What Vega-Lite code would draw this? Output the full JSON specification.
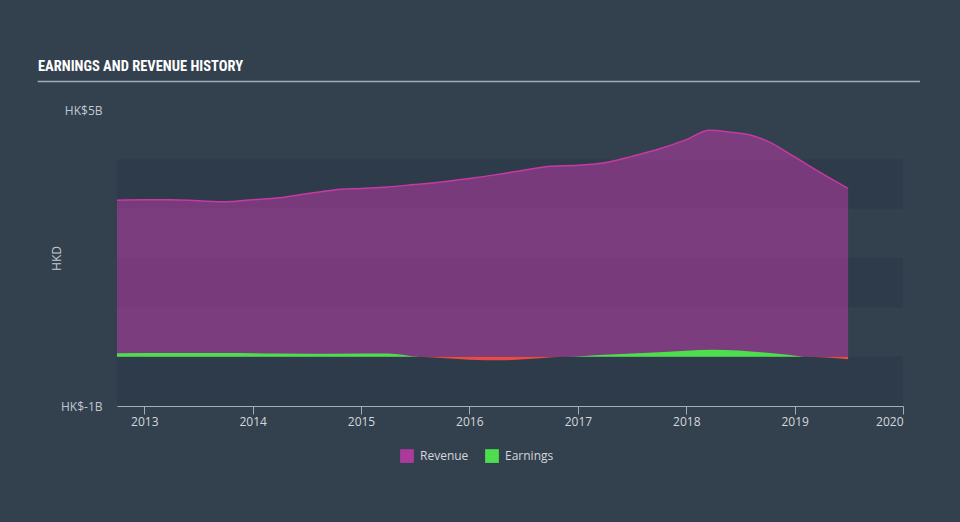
{
  "$schema": "https://vega.github.io/schema/vega-lite/v6.json",
  "autosize": "none",
  "width": 786,
  "height": 296,
  "padding": {"left": 117, "top": 110, "right": 57, "bottom": 116},
  "background": "#33414f",
  "title": {
    "text": "EARNINGS AND REVENUE HISTORY",
    "anchor": "start",
    "frame": "group",
    "dx": -79,
    "offset": 6,
    "font": "Roboto Condensed, DejaVu Sans Condensed",
    "fontSize": 14.5,
    "fontWeight": "bold",
    "color": "#ffffff"
  },
  "config": {
    "view": {"stroke": null},
    "axis": {"labelFont": "Open Sans", "titleFont": "Open Sans", "grid": false}
  },
  "datasets": {
    "bands": [
      {"lo": -1, "hi": 0},
      {"lo": 1, "hi": 2},
      {"lo": 3, "hi": 4}
    ],
    "header": [
      {"start": "2012-01-08", "end": "2020-02-27", "level": 5.58}
    ],
    "revenue": [
      {"date": "2012-10-01", "revenue": 3.17},
      {"date": "2013-01-01", "revenue": 3.18},
      {"date": "2013-04-01", "revenue": 3.18},
      {"date": "2013-07-01", "revenue": 3.16},
      {"date": "2013-10-01", "revenue": 3.14},
      {"date": "2014-01-01", "revenue": 3.18},
      {"date": "2014-04-01", "revenue": 3.22},
      {"date": "2014-07-01", "revenue": 3.30},
      {"date": "2014-10-01", "revenue": 3.38},
      {"date": "2015-01-01", "revenue": 3.41},
      {"date": "2015-04-01", "revenue": 3.44},
      {"date": "2015-07-01", "revenue": 3.49},
      {"date": "2015-10-01", "revenue": 3.54},
      {"date": "2016-01-01", "revenue": 3.61},
      {"date": "2016-04-01", "revenue": 3.69},
      {"date": "2016-07-01", "revenue": 3.78},
      {"date": "2016-10-01", "revenue": 3.86},
      {"date": "2017-01-01", "revenue": 3.88},
      {"date": "2017-04-01", "revenue": 3.93},
      {"date": "2017-07-01", "revenue": 4.06},
      {"date": "2017-10-01", "revenue": 4.21},
      {"date": "2018-01-01", "revenue": 4.40},
      {"date": "2018-03-20", "revenue": 4.59},
      {"date": "2018-06-01", "revenue": 4.55},
      {"date": "2018-08-01", "revenue": 4.50},
      {"date": "2018-10-01", "revenue": 4.37},
      {"date": "2019-01-01", "revenue": 4.05},
      {"date": "2019-04-01", "revenue": 3.72},
      {"date": "2019-06-30", "revenue": 3.41}
    ],
    "earnings": [
      {"date": "2012-10-01", "earnings": 0.07, "sign": "pos"},
      {"date": "2013-04-01", "earnings": 0.075, "sign": "pos"},
      {"date": "2013-10-01", "earnings": 0.075, "sign": "pos"},
      {"date": "2014-04-01", "earnings": 0.065, "sign": "pos"},
      {"date": "2014-10-01", "earnings": 0.06, "sign": "pos"},
      {"date": "2015-04-01", "earnings": 0.065, "sign": "pos"},
      {"date": "2015-07-20", "earnings": 0.0, "sign": "zero"},
      {"date": "2015-10-15", "earnings": -0.03, "sign": "neg"},
      {"date": "2016-01-01", "earnings": -0.06, "sign": "neg"},
      {"date": "2016-04-15", "earnings": -0.075, "sign": "neg"},
      {"date": "2016-08-01", "earnings": -0.04, "sign": "neg"},
      {"date": "2016-11-20", "earnings": 0.0, "sign": "zero"},
      {"date": "2017-04-01", "earnings": 0.04, "sign": "pos"},
      {"date": "2017-10-01", "earnings": 0.09, "sign": "pos"},
      {"date": "2018-04-01", "earnings": 0.14, "sign": "pos"},
      {"date": "2018-10-01", "earnings": 0.08, "sign": "pos"},
      {"date": "2019-02-01", "earnings": 0.0, "sign": "zero"},
      {"date": "2019-06-30", "earnings": -0.05, "sign": "neg"}
    ]
  },
  "encoding": {
    "x": {
      "field": "date",
      "type": "temporal",
      "scale": {"domain": [{"year": 2012, "month": 10, "date": 1}, {"year": 2020, "month": 1, "date": 1}], "nice": false},
      "axis": {
        "title": null,
        "format": "%Y",
        "tickCount": {"interval": "year", "step": 1},
        "domainColor": "#a3aebb",
        "tickColor": "#a3aebb",
        "tickSize": 8,
        "labelColor": "#d3d7dc",
        "labelFontSize": 12,
        "labelPadding": 2
      }
    }
  },
  "layer": [
    {
      "data": {"name": "bands"},
      "mark": {"type": "rect", "fill": "#2e3b4a"},
      "encoding": {
        "x": null,
        "y": {
          "field": "lo",
          "type": "quantitative",
          "scale": {"domain": [-1, 5], "nice": false, "zero": false},
          "axis": {
            "values": [-1, 5],
            "labelExpr": "'HK$' + datum.value + 'B'",
            "domain": false,
            "ticks": false,
            "labelPadding": 15,
            "labelColor": "#c3c8ce",
            "labelFontSize": 12,
            "title": "HKD",
            "titleColor": "#c3c8ce",
            "titleFontSize": 12,
            "titleFontWeight": "normal",
            "titleX": -54,
            "titleY": 148
          }
        },
        "y2": {"field": "hi"}
      }
    },
    {
      "data": {"name": "revenue"},
      "mark": {"type": "area", "interpolate": "monotone", "fillOpacity": 0.6},
      "encoding": {
        "y": {"field": "revenue", "type": "quantitative"},
        "fill": {
          "datum": "Revenue",
          "scale": {"domain": ["Revenue", "Earnings"], "range": ["#ab3a9c", "#4dde4d"]},
          "legend": {
            "title": null,
            "orient": "none",
            "direction": "horizontal",
            "legendX": 283,
            "legendY": 339,
            "symbolType": "square",
            "symbolSize": 190,
            "symbolOpacity": 1,
            "symbolStrokeWidth": 0,
            "labelColor": "#d3d7dc",
            "labelFont": "Open Sans",
            "labelFontSize": 12,
            "labelOffset": 6,
            "columnPadding": 16
          }
        }
      }
    },
    {
      "data": {"name": "revenue"},
      "mark": {"type": "line", "interpolate": "monotone", "color": "#c53aa3", "strokeWidth": 1.5},
      "encoding": {
        "y": {"field": "revenue", "type": "quantitative"}
      }
    },
    {
      "data": {"name": "earnings"},
      "transform": [{"filter": "datum.sign != 'neg'"}],
      "mark": {"type": "area", "interpolate": "monotone", "fillOpacity": 1},
      "encoding": {
        "y": {"field": "earnings", "type": "quantitative"},
        "fill": {"datum": "Earnings"}
      }
    },
    {
      "data": {"name": "earnings"},
      "transform": [{"filter": "datum.sign != 'pos'"}],
      "mark": {"type": "area", "interpolate": "monotone", "fill": "#e84a4a"},
      "encoding": {
        "y": {"field": "earnings", "type": "quantitative"}
      }
    },
    {
      "mark": {"type": "rule", "color": "#ffffff", "strokeWidth": 1.5},
      "encoding": {"x": null, "y": {"datum": 0}}
    },
    {
      "data": {"name": "header"},
      "mark": {"type": "rule", "color": "#a7adb4", "strokeWidth": 1.5, "clip": false},
      "encoding": {
        "x": {"field": "start", "type": "temporal"},
        "x2": {"field": "end"},
        "y": {"field": "level", "type": "quantitative"}
      }
    }
  ]
}
